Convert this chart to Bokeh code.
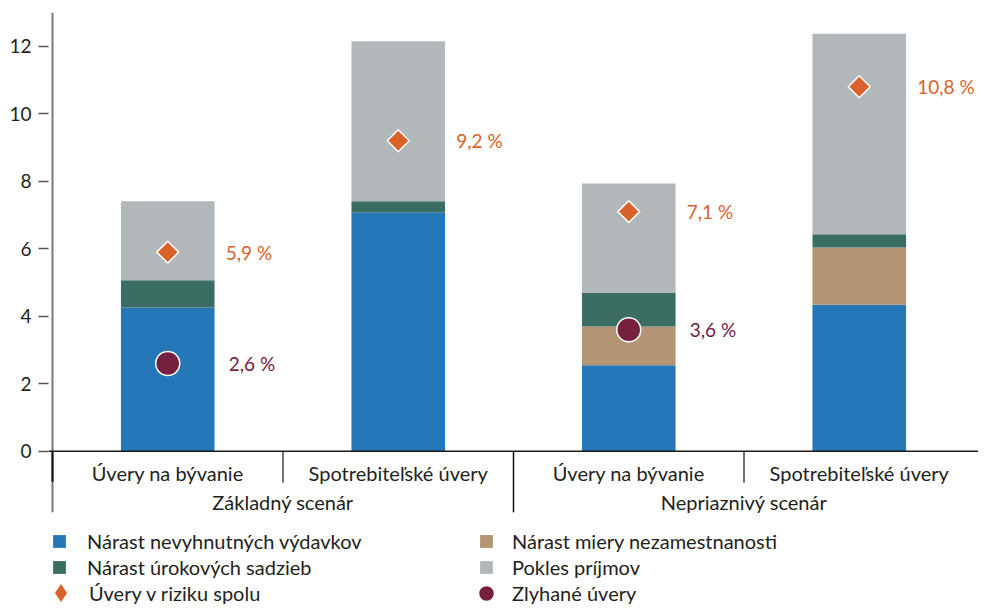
import math
from bokeh.plotting import figure
from bokeh.models import (ColumnDataSource, FactorRange, Range1d, Span, Legend,
                          LegendItem, FixedTicker)
from bokeh.core.properties import value
from bokeh.embed import file_html
from bokeh.resources import INLINE

# ---------------- data ----------------
scenarios = ["Základný scenár", "Základný scenár", "Nepriaznivý scenár", "Nepriaznivý scenár"]
loan_types = ["Úvery na bývanie", "Spotrebiteľské úvery", "Úvery na bývanie", "Spotrebiteľské úvery"]
necessary_expenses = [4.26, 7.08, 2.55, 4.34]   # Nárast nevyhnutných výdavkov
unemployment = [0.0, 0.0, 1.15, 1.70]           # Nárast miery nezamestnanosti
interest_rates = [0.81, 0.33, 0.99, 0.39]       # Nárast úrokových sadzieb
income_decline = [2.34, 4.74, 3.24, 5.94]       # Pokles príjmov
loans_at_risk = [5.9, 9.2, 7.1, 10.8]           # Úvery v riziku spolu
defaulted_loans = [2.6, None, 3.6, None]        # Zlyhané úvery
y_ticks = [0, 2, 4, 6, 8, 10, 12]

series_names = ["Nárast nevyhnutných výdavkov", "Nárast miery nezamestnanosti",
                "Nárast úrokových sadzieb", "Pokles príjmov"]
risk_name = "Úvery v riziku spolu"
default_name = "Zlyhané úvery"

# ---------------- styles ----------------
FONT = "Lato"
TXT = "#231f20"
BAR_COLORS = ["#2677b8", "#b39573", "#3a6e63", "#b2b7b9"]
ORANGE = "#d9622b"
MAROON = "#74203e"

def pct(v):
    return f"{v:.1f}".replace(".", ",") + " %"

factors = list(zip(scenarios, loan_types))
keys = ["nec", "une", "rate", "inc"]
source = ColumnDataSource(dict(x=factors, nec=necessary_expenses, une=unemployment,
                               rate=interest_rates, inc=income_decline))

x_range = FactorRange(factors=factors, factor_padding=0, group_padding=0,
                      range_padding=0.0173, range_padding_units="absolute")
p = figure(width=978, height=605, x_range=x_range, y_range=Range1d(-4.570, 13.0),
           output_backend="svg", toolbar_location=None,
           min_border_left=48, min_border_right=0, min_border_top=12, min_border_bottom=0)
p.xaxis.visible = False
p.xgrid.visible = False
p.ygrid.visible = False
p.outline_line_color = None
p.background_fill_color = "white"
p.border_fill_color = "white"

ax = p.yaxis[0]
ax.ticker = FixedTicker(ticks=y_ticks)
ax.axis_line_color = None
ax.major_tick_in = 0
ax.major_tick_out = 10
ax.major_tick_line_color = "#555555"
ax.major_tick_line_width = 1.5
ax.minor_tick_line_color = None
ax.major_label_text_font = FONT
ax.major_label_text_font_size = "19px"
ax.major_label_text_color = TXT
ax.major_label_standoff = 7

# bars
bar_renderers = p.vbar_stack(keys, x="x", width=0.406, fill_color=BAR_COLORS,
                             line_color=None, source=source)

# axis line (y) and zero line
x_left = (scenarios[0], loan_types[0], -0.5)
p.segment(x0=[x_left], y0=[-1.81], x1=[x_left], y1=[13.0],
          line_color="#7a7a7a", line_width=2)
p.add_layout(Span(location=0, dimension="width", line_color="#1a1a1a", line_width=1.5))

# separators under the axis
sep_x = [(scenarios[0], loan_types[0], -0.5), (scenarios[0], loan_types[0], 0.5),
         (scenarios[1], loan_types[1], 0.5), (scenarios[2], loan_types[2], 0.5)]
sep_src = ColumnDataSource(dict(x=sep_x, y0=[0, 0, 0, 0], y1=[-0.9, -0.93, -1.81, -0.93],
                                c=["#111111", "#444444", "#111111", "#444444"],
                                w=[2.0, 1.5, 1.5, 1.5]))
p.segment(x0="x", y0="y0", x1="x", y1="y1", line_color="c", line_width="w", source=sep_src)

# category labels
cat_src = ColumnDataSource(dict(x=factors, t=loan_types))
p.text(x="x", y=-0.65, text="t", source=cat_src, text_align="center",
       text_baseline="middle", text_font=value(FONT), text_font_size="20px",
       text_color=TXT)
grp_x = [(scenarios[1], loan_types[1], -0.5), (scenarios[3], loan_types[3], -0.5)]
grp_src = ColumnDataSource(dict(x=grp_x, t=[scenarios[0], scenarios[2]]))
p.text(x="x", y=-1.51, text="t", source=grp_src, text_align="center",
       text_baseline="middle", text_font=value(FONT), text_font_size="20px",
       text_color=TXT)

# markers
risk_src = ColumnDataSource(dict(x=factors, y=loans_at_risk,
                                 t=[pct(v) for v in loans_at_risk]))
risk_r = p.scatter(x="x", y="y", source=risk_src, marker="square", angle=math.pi / 4,
                   size=15.5, fill_color=ORANGE, line_color="white", line_width=1.5)
p.text(x="x", y="y", text="t", source=risk_src, x_offset=58, text_align="left",
       text_baseline="middle", text_font=value(FONT), text_font_size="19px",
       text_color=ORANGE)

d_x = [f for f, v in zip(factors, defaulted_loans) if v is not None]
d_y = [v for v in defaulted_loans if v is not None]
def_src = ColumnDataSource(dict(x=d_x, y=d_y, t=[pct(v) for v in d_y]))
def_r = p.scatter(x="x", y="y", source=def_src, marker="circle", size=24,
                  fill_color=MAROON, line_color="white", line_width=1.5)
p.text(x="x", y="y", text="t", source=def_src, x_offset=61, text_align="left",
       text_baseline="middle", text_font=value(FONT), text_font_size="19px",
       text_color=MAROON)

# legend-only diamond glyph (same series, drawn with an unrotated diamond marker)
risk_key = p.scatter(x="x", y=float("nan"), source=risk_src, marker="diamond",
                     size=18, fill_color=ORANGE, line_color=None)

# legends
def make_legend(items, loc, gw, gh, standoff):
    lg = Legend(items=items, location=loc, orientation="vertical",
                glyph_width=gw, glyph_height=gh, label_standoff=standoff,
                label_height=21, spacing=2, padding=0, margin=0,
                border_line_color=None, background_fill_alpha=0,
                label_text_font=FONT, label_text_font_size="20px",
                label_text_color=TXT)
    p.add_layout(lg)
    return lg

make_legend([LegendItem(label=series_names[0], renderers=[bar_renderers[0]]),
             LegendItem(label=series_names[2], renderers=[bar_renderers[2]])],
            (3, 26), 16, 16, 20)
make_legend([LegendItem(label=series_names[1], renderers=[bar_renderers[1]]),
             LegendItem(label=series_names[3], renderers=[bar_renderers[3]])],
            (430, 26), 16, 16, 18)
make_legend([LegendItem(label=risk_name, renderers=[risk_key])],
            (-10, -10), 45, 45, 6)
make_legend([LegendItem(label=default_name, renderers=[def_r])],
            (418, -8), 40, 40, 6)

open("out.html", "w").write(file_html(p, INLINE))
